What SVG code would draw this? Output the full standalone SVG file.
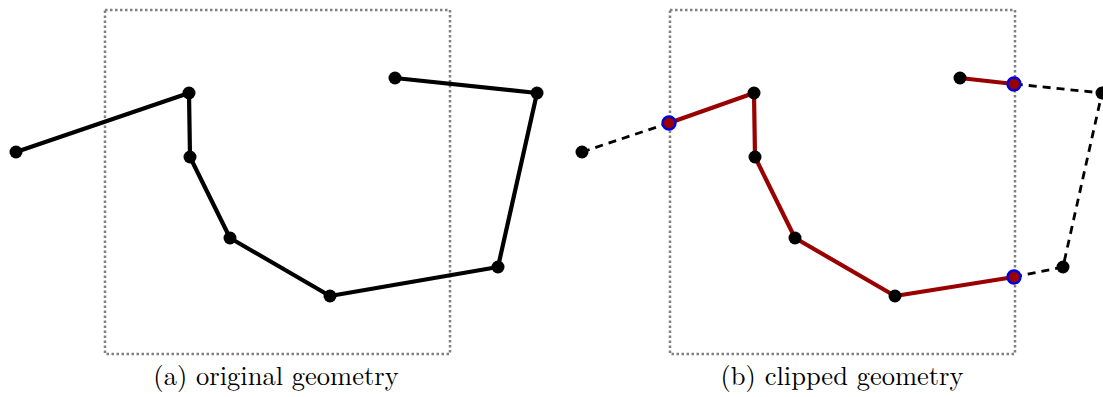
<svg xmlns="http://www.w3.org/2000/svg" width="1103" height="397" viewBox="0 0 1103 397">
<style>
.clip{fill:none;stroke:#808080;stroke-width:2.5;stroke-dasharray:2.5,2.5}
.orig{fill:none;stroke:#000;stroke-width:4.2;stroke-linejoin:round}
.kept{fill:none;stroke:#990000;stroke-width:4.2;stroke-linejoin:round}
.cut{fill:none;stroke:#000;stroke-width:2.8;stroke-dasharray:8,6}
.pt{fill:#000}
.ip{fill:#990000;stroke:#0000dd;stroke-width:2.4}
.lbl{font-family:"Latin Modern Roman","Liberation Serif",serif;font-size:26.5px;fill:#000;text-anchor:middle}
</style>
<rect width="1103" height="397" fill="#fff"/>
<g id="panel-a">
  <rect id="clip-a" class="clip" x="105" y="10" width="345" height="344"/>
  <g id="connectors-a">
    <polyline class="orig" points="16,152 189,93 190,157 230,238 330,296 498,267 537,93 395,78"/>
  </g>
  <g id="nodes-a">
    <circle class="pt" cx="16" cy="152" r="6.5"/>
    <circle class="pt" cx="189" cy="93" r="6.5"/>
    <circle class="pt" cx="190" cy="157" r="6.5"/>
    <circle class="pt" cx="230" cy="238" r="6.5"/>
    <circle class="pt" cx="330" cy="296" r="6.5"/>
    <circle class="pt" cx="498" cy="267" r="6.5"/>
    <circle class="pt" cx="537" cy="93" r="6.5"/>
    <circle class="pt" cx="395" cy="78" r="6.5"/>
  </g>
  <text id="label-a" class="lbl" x="276" y="385">(a) original geometry</text>
</g>
<g id="panel-b">
  <rect id="clip-b" class="clip" x="670" y="10" width="345" height="344"/>
  <g id="connectors-b">
    <polyline class="cut" points="582,152 669,123"/>
    <polyline class="cut" points="1014,277 1063,267 1102,93 1014,84"/>
    <polyline class="kept" points="669,123 754,93 755,157 795,238 895,296 1014,277"/>
    <polyline class="kept" points="1014,84 960,78"/>
  </g>
  <g id="nodes-b">
    <circle class="pt" cx="582" cy="152" r="6.5"/>
    <circle class="pt" cx="754" cy="93" r="6.5"/>
    <circle class="pt" cx="755" cy="157" r="6.5"/>
    <circle class="pt" cx="795" cy="238" r="6.5"/>
    <circle class="pt" cx="895" cy="296" r="6.5"/>
    <circle class="pt" cx="1063" cy="267" r="6.5"/>
    <circle class="pt" cx="1102" cy="93" r="6.5"/>
    <circle class="pt" cx="960" cy="78" r="6.5"/>
    <circle class="ip" cx="669" cy="123" r="6.5"/>
    <circle class="ip" cx="1014" cy="84" r="6.5"/>
    <circle class="ip" cx="1014" cy="277" r="6.5"/>
  </g>
  <text id="label-b" class="lbl" x="842" y="385">(b) clipped geometry</text>
</g>
</svg>
